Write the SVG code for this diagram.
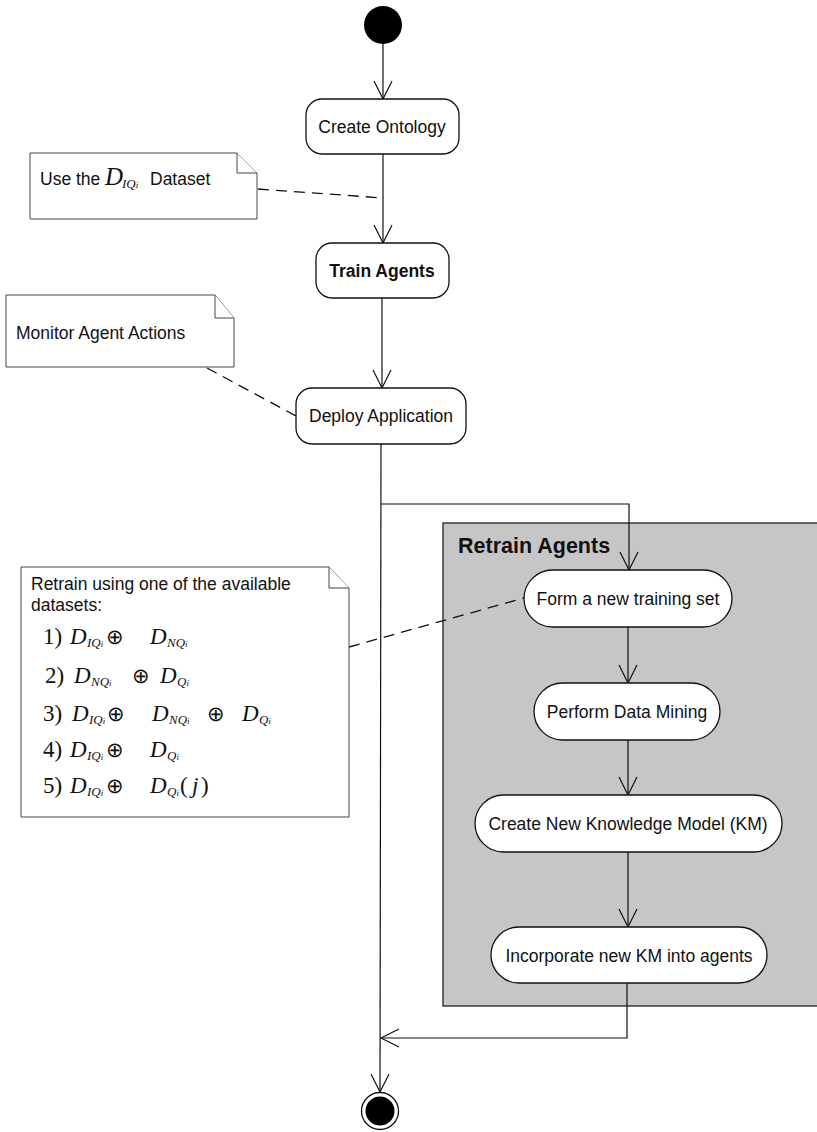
<svg xmlns="http://www.w3.org/2000/svg" width="817" height="1132" viewBox="0 0 817 1132">
  <style>
    .act { fill: #ffffff; stroke: #111; stroke-width: 1.3; }
    .note { fill: #ffffff; stroke: #444; stroke-width: 1; }
    .lbl { font-family: "Liberation Sans", Arial, sans-serif; font-size: 17.5px; fill: #111; text-anchor: middle; }
    .bold { font-weight: bold; }
    .ntxt { font-family: "Liberation Sans", Arial, sans-serif; font-size: 17.5px; fill: #111; }
    .math { font-family: "Liberation Serif", "Times New Roman", serif; font-size: 23px; fill: #111; }
    .sub { font-size: 13px; font-style: italic; }
    .si { font-size: 9px; font-style: italic; }
    .it { font-style: italic; }
    .op { font-size: 21px; }
    .flow { fill: none; stroke: #111; stroke-width: 1.2; }
    .link { fill: none; stroke: #111; stroke-width: 1.3; stroke-dasharray: 11 7; }
  </style>
  <defs>
    <marker id="open" markerUnits="userSpaceOnUse" markerWidth="24" markerHeight="24" refX="19" refY="10" orient="auto">
      <path d="M1,1 L19,10 L1,19" fill="none" stroke="#111" stroke-width="1.2"/>
    </marker>
  </defs>

  <rect width="817" height="1132" fill="#ffffff"/>

  <!-- Retrain Agents composite state -->
  <g id="retrain-agents">
    <rect x="443" y="523" width="380" height="483" fill="#c6c6c6" stroke="#222" stroke-width="1.3"/>
    <text x="458" y="553" class="ntxt bold" style="font-size:21.5px">Retrain Agents</text>
  </g>

  <!-- connectors -->
  <g id="connectors">
    <line class="flow" x1="383" y1="44" x2="383" y2="99" marker-end="url(#open)"/>
    <line class="flow" x1="383" y1="154" x2="383" y2="243" marker-end="url(#open)"/>
    <line class="flow" x1="382" y1="298" x2="382" y2="388" marker-end="url(#open)"/>
    <line class="flow" x1="381" y1="444" x2="380" y2="1092" marker-end="url(#open)"/>
    <polyline class="flow" points="381,504 629,504 629,570" marker-end="url(#open)"/>
    <line class="flow" x1="628" y1="627" x2="628" y2="683" marker-end="url(#open)"/>
    <line class="flow" x1="628" y1="740" x2="628" y2="795" marker-end="url(#open)"/>
    <line class="flow" x1="628" y1="852" x2="628" y2="927" marker-end="url(#open)"/>
    <polyline class="flow" points="627,983 627,1038 381,1038" marker-end="url(#open)"/>
    <!-- note anchors -->
    <line class="link" x1="258" y1="189" x2="383" y2="198"/>
    <line class="link" x1="207" y1="368" x2="296" y2="416"/>
    <line class="link" x1="349" y1="647" x2="524" y2="598"/>
  </g>

  <!-- initial node -->
  <g id="start">
    <circle cx="383" cy="25" r="19" fill="#000"/>
  </g>

  <g id="create-ontology">
    <rect class="act" x="306" y="99" width="153" height="55" rx="16"/>
    <text class="lbl" x="382" y="133">Create Ontology</text>
  </g>

  <g id="train-agents">
    <rect class="act" x="316" y="243" width="133" height="55" rx="16"/>
    <text class="lbl bold" x="382" y="277">Train Agents</text>
  </g>

  <g id="deploy-application">
    <rect class="act" x="296" y="388" width="170" height="56" rx="16"/>
    <text class="lbl" x="381" y="422">Deploy Application</text>
  </g>

  <g id="form-training-set">
    <rect class="act" x="524" y="570" width="208" height="57" rx="28.5"/>
    <text class="lbl" x="628" y="605">Form a new training set</text>
  </g>

  <g id="perform-data-mining">
    <rect class="act" x="534" y="683" width="186" height="57" rx="28.5"/>
    <text class="lbl" x="627" y="718">Perform Data Mining</text>
  </g>

  <g id="create-km">
    <rect class="act" x="475" y="795" width="307" height="57" rx="28.5"/>
    <text class="lbl" x="628" y="830">Create New Knowledge Model (KM)</text>
  </g>

  <g id="incorporate-km">
    <rect class="act" x="491" y="927" width="276" height="56" rx="28"/>
    <text class="lbl" x="629" y="962">Incorporate new KM into agents</text>
  </g>

  <!-- final node -->
  <g id="end">
    <circle cx="380" cy="1111" r="18.5" fill="#fff" stroke="#111" stroke-width="1.3"/>
    <circle cx="380" cy="1111" r="14.5" fill="#000"/>
  </g>

  <!-- notes -->
  <g id="note-dataset">
    <path class="note" d="M30,153 H237 L257,173 V219 H30 Z"/>
    <path class="note" d="M237,153 V173 H257" fill="none"/>
    <text x="40" y="185" class="ntxt">Use the</text>
    <text class="math" y="185"><tspan class="it" x="105" style="font-size:25px">D</tspan><tspan class="sub" x="122" dy="3">IQ</tspan><tspan class="si">i</tspan></text>
    <text x="150" y="185" class="ntxt">Dataset</text>
  </g>

  <g id="note-monitor">
    <path class="note" d="M6,295 H215 L234,318 V367 H6 Z"/>
    <path class="note" d="M215,295 V318 H234" fill="none"/>
    <text x="16" y="339" class="ntxt">Monitor Agent Actions</text>
  </g>

  <g id="note-retrain">
    <path class="note" d="M21,567 H329 L349,588 V817 H21 Z"/>
    <path class="note" d="M329,567 V588 H349" fill="none"/>
    <text x="31" y="590" class="ntxt">Retrain using one of the available</text>
    <text x="31" y="611" class="ntxt">datasets:</text>
    <text class="math" y="644"><tspan x="43">1)</tspan><tspan class="it" x="70">D</tspan><tspan class="sub" x="87" dy="3">IQ</tspan><tspan class="si">i</tspan><tspan class="op" x="106" dy="-3">⊕</tspan><tspan class="it" x="150">D</tspan><tspan class="sub" x="167" dy="3">NQ</tspan><tspan class="si">i</tspan></text>
    <text class="math" y="683"><tspan x="45">2)</tspan><tspan class="it" x="74">D</tspan><tspan class="sub" x="91" dy="3">NQ</tspan><tspan class="si">i</tspan><tspan class="op" x="132" dy="-3">⊕</tspan><tspan class="it" x="160">D</tspan><tspan class="sub" x="177" dy="3">Q</tspan><tspan class="si">i</tspan></text>
    <text class="math" y="721"><tspan x="43">3)</tspan><tspan class="it" x="72">D</tspan><tspan class="sub" x="89" dy="3">IQ</tspan><tspan class="si">i</tspan><tspan class="op" x="107" dy="-3">⊕</tspan><tspan class="it" x="152">D</tspan><tspan class="sub" x="169" dy="3">NQ</tspan><tspan class="si">i</tspan><tspan class="op" x="207" dy="-3">⊕</tspan><tspan class="it" x="242">D</tspan><tspan class="sub" x="259" dy="3">Q</tspan><tspan class="si">i</tspan></text>
    <text class="math" y="757"><tspan x="43">4)</tspan><tspan class="it" x="70">D</tspan><tspan class="sub" x="87" dy="3">IQ</tspan><tspan class="si">i</tspan><tspan class="op" x="106" dy="-3">⊕</tspan><tspan class="it" x="150">D</tspan><tspan class="sub" x="167" dy="3">Q</tspan><tspan class="si">i</tspan></text>
    <text class="math" y="793"><tspan x="43">5)</tspan><tspan class="it" x="70">D</tspan><tspan class="sub" x="87" dy="3">IQ</tspan><tspan class="si">i</tspan><tspan class="op" x="106" dy="-3">⊕</tspan><tspan class="it" x="150">D</tspan><tspan class="sub" x="167" dy="3">Q</tspan><tspan class="si">i</tspan><tspan x="180" dy="-3">(</tspan><tspan class="it" x="192">j</tspan><tspan x="201">)</tspan></text>
  </g>
</svg>
